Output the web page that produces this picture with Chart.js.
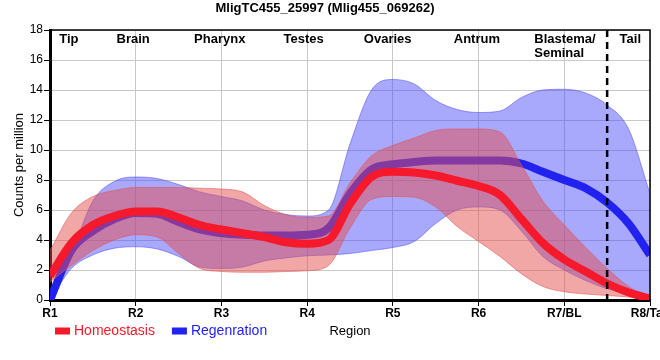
<!DOCTYPE html>
<html>
<head>
<meta charset="utf-8">
<title>MligTC455_25997</title>
<script src="https://cdn.jsdelivr.net/npm/chart.js@4.4.0/dist/chart.umd.min.js"></script>
<style>
  html, body { margin: 0; padding: 0; background: #fff; overflow: hidden; }
  #wrap { width: 700px; height: 360px; }
</style>
</head>
<body>
<div id="wrap"><canvas id="regionChart"></canvas></div>
<script>
// valeurs (positions le long du corps, R1 = 1 ... R8 = 8)
const regionTicks = ['R1', 'R2', 'R3', 'R4', 'R5', 'R6', 'R7/BL', 'R8/Tail'];
const positions = [1, 1.25, 1.5, 1.75, 2, 2.25, 2.5, 2.75, 3, 3.25, 3.5, 3.75, 4, 4.25, 4.5,
                   4.75, 5, 5.25, 5.5, 5.75, 6, 6.25, 6.5, 6.75, 7, 7.25, 7.5, 7.75, 8];

const homeostasis = [1.6, 3.8, 5.0, 5.6, 5.9, 5.9, 5.5, 5.0, 4.7, 4.45, 4.2, 3.85, 3.75, 4.0, 6.4,
                     8.2, 8.55, 8.5, 8.3, 7.95, 7.6, 7.0, 5.4, 3.8, 2.7, 1.9, 1.1, 0.5, 0.1];
const homeoUpper  = [3.3, 5.8, 6.9, 7.3, 7.5, 7.5, 7.5, 7.45, 7.4, 7.2, 6.3, 5.7, 5.5, 5.6, 7.8,
                     9.6, 10.3, 10.8, 11.3, 11.4, 11.4, 11.2, 9.0, 6.6, 5.0, 3.5, 2.1, 0.9, 0.1];
const homeoLower  = [1.2, 2.3, 3.3, 4.0, 4.35, 4.2, 3.1, 2.1, 1.9, 1.85, 1.85, 1.9, 1.95, 2.3, 4.8,
                     6.7, 6.9, 6.85, 6.2, 4.9, 3.9, 2.9, 1.75, 0.9, 0.55, 0.4, 0.3, 0.2, 0.1];

const regeneration = [0, 3.3, 4.6, 5.4, 5.8, 5.75, 5.2, 4.7, 4.45, 4.35, 4.3, 4.3, 4.35, 4.8, 7.1,
                      8.7, 9.05, 9.2, 9.3, 9.3, 9.3, 9.3, 9.1, 8.55, 8.0, 7.45, 6.5, 5.1, 3.0];
const regenUpper   = [0.1, 3.1, 6.6, 7.9, 8.2, 8.1, 7.7, 7.2, 6.9, 6.6, 6.0, 5.7, 5.6, 6.0, 10.4,
                      14.0, 14.7, 14.4, 13.3, 12.7, 12.5, 12.6, 13.5, 14.0, 14.05, 13.8, 13.0, 11.4, 7.1];
const regenLower   = [0, 2.1, 3.0, 3.45, 3.55, 3.4, 2.9, 2.2, 2.1, 2.2, 2.6, 2.8, 2.95, 3.0, 3.1,
                      3.3, 3.5, 3.9, 5.1, 6.0, 6.2, 6.0, 4.6, 2.9, 2.0, 1.3, 0.75, 0.4, 0.1];

// noms des régions en haut du graphique
const regionNames = ['Tip', 'Brain', 'Pharynx', 'Testes', 'Ovaries', 'Antrum', ['Blastema/', 'Seminal'], 'Tail'];
const regionAt = [1.22, 1.97, 2.98, 3.96, 4.94, 5.98, 6.65, 7.77];
const tailBoundary = 7.5;

const RED = '#f5192b';
const BLUE = '#2222f0';
const FONT = '"Liberation Sans", Arial, sans-serif';

function pts(values) {
    return positions.map((x, i) => ({ x: x, y: values[i] }));
}

// bordure haut/droite, ligne pointillée, noms des régions, légende
const regionOverlay = {
    id: 'regionOverlay',
    afterDatasetsDraw(chart) {
        const ctx = chart.ctx;
        const a = chart.chartArea;
        const x = chart.scales.x;
        ctx.save();
        const bx = x.getPixelForValue(tailBoundary);
        ctx.strokeStyle = '#000';
        ctx.lineWidth = 2.5;
        ctx.setLineDash([7, 5]);
        ctx.beginPath();
        ctx.moveTo(bx, a.top);
        ctx.lineTo(bx, a.bottom);
        ctx.stroke();
        ctx.setLineDash([]);

        ctx.lineWidth = 1.5;
        ctx.beginPath();
        ctx.moveTo(a.left, a.top);
        ctx.lineTo(a.right, a.top);
        ctx.lineTo(a.right, a.bottom);
        ctx.stroke();

        ctx.font = 'bold 13px ' + FONT;
        ctx.fillStyle = '#000';
        ctx.textBaseline = 'middle';
        regionNames.forEach((name, i) => {
            const px = x.getPixelForValue(regionAt[i]);
            const lines = [].concat(name);
            ctx.textAlign = lines.length > 1 ? 'left' : 'center';
            lines.forEach((t, j) => ctx.fillText(t, px, a.top + 9.5 + j * 14));
        });
        ctx.restore();
    },
    afterDraw(chart) {
        const ctx = chart.ctx;
        const a = chart.chartArea;
        ctx.save();
        ctx.font = '14px ' + FONT;
        ctx.textAlign = 'left';
        ctx.textBaseline = 'middle';
        let lx = a.left + 5;
        const ly = 331;
        chart.data.datasets.filter(d => d.inLegend).forEach(d => {
            ctx.fillStyle = d.borderColor;
            ctx.fillRect(lx, ly - 3.5, 15, 7);
            ctx.fillText(d.label, lx + 19, ly);
            lx += 19 + ctx.measureText(d.label).width + 17;
        });
        ctx.restore();
    }
};

Chart.defaults.font.family = FONT;

new Chart(document.getElementById('regionChart'), {
    type: 'line',
    data: {
        datasets: [{
            label: 'Homeostasis',
            inLegend: true,
            data: pts(homeostasis),
            borderColor: RED,
            borderWidth: 8,
            fill: false
        }, {
            label: 'Homeostasis upper',
            data: pts(homeoUpper),
            borderColor: 'rgba(225, 80, 80, 0.55)',
            backgroundColor: 'rgba(230, 80, 80, 0.5)',
            borderWidth: 1,
            fill: '+1'
        }, {
            label: 'Homeostasis lower',
            data: pts(homeoLower),
            borderColor: 'rgba(225, 80, 80, 0.55)',
            borderWidth: 1,
            fill: false
        }, {
            label: 'Regenration',
            inLegend: true,
            data: pts(regeneration),
            borderColor: BLUE,
            borderWidth: 8,
            fill: false
        }, {
            label: 'Regenration upper',
            data: pts(regenUpper),
            borderColor: 'rgba(70, 70, 245, 0.5)',
            backgroundColor: 'rgba(70, 70, 250, 0.47)',
            borderWidth: 1,
            fill: '+1'
        }, {
            label: 'Regenration lower',
            data: pts(regenLower),
            borderColor: 'rgba(70, 70, 245, 0.5)',
            borderWidth: 1,
            fill: false
        }]
    },
    options: {
        responsive: true,
        maintainAspectRatio: false,
        animation: false,
        layout: { padding: { left: 0, right: 50, top: 0, bottom: 0 } },
        elements: {
            point: { radius: 0 },
            line: { cubicInterpolationMode: 'monotone', borderJoinStyle: 'round' }
        },
        plugins: {
            legend: { display: false },
            tooltip: { enabled: false },
            title: {
                display: true,
                text: 'MligTC455_25997 (Mlig455_069262)',
                color: '#000',
                font: { size: 13, weight: 'bold' },
                padding: { top: 1, bottom: 13.4 }
            }
        },
        scales: {
            x: {
                type: 'linear',
                min: 1,
                max: 8,
                ticks: {
                    stepSize: 1,
                    color: '#000',
                    padding: 0,
                    font: { size: 12, weight: 'bold' },
                    callback: v => regionTicks[v - 1]
                },
                grid: { color: '#c8c8c8', tickColor: '#000', tickLength: 6 },
                border: { color: '#000', width: 3 },
                title: {
                    display: true,
                    text: 'Region',
                    color: '#000',
                    font: { size: 13 },
                    padding: { top: 0, bottom: 21 }
                },
                afterFit(scale) { scale.height = 60; }
            },
            y: {
                min: 0,
                max: 18,
                ticks: { stepSize: 2, color: '#000', padding: 1, font: { size: 12 } },
                grid: { color: '#c8c8c8', tickColor: '#000', tickLength: 6 },
                border: { color: '#000', width: 3 },
                title: {
                    display: true,
                    text: 'Counts per million',
                    color: '#000',
                    font: { size: 13 },
                    padding: { top: 12, bottom: 0 }
                },
                afterFit(scale) { scale.width = 50; }
            }
        }
    },
    plugins: [regionOverlay]
});
</script>
</body>
</html>
